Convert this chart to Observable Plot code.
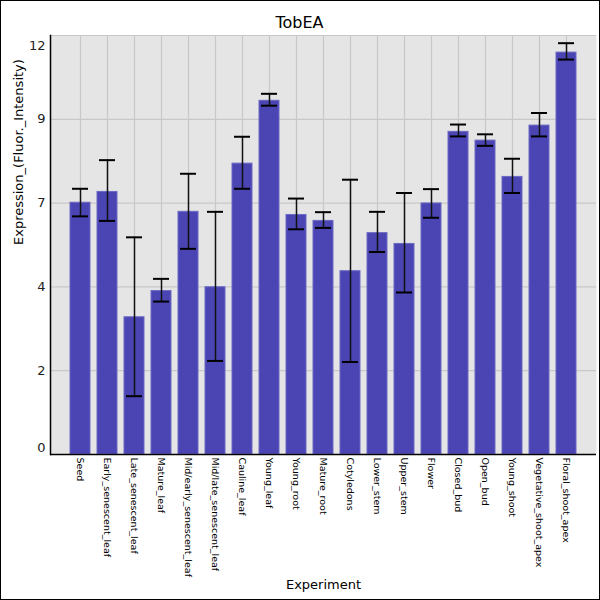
<!DOCTYPE html>
<html>
<head>
<meta charset="utf-8">
<script src="https://cdn.jsdelivr.net/npm/d3@7"></script>
<script src="https://cdn.jsdelivr.net/npm/@observablehq/plot@0.6"></script>
<style>
  body { margin: 0; background: #fff; }
  #wrap { position: relative; width: 600px; height: 600px; }
  #border { position: absolute; left: 0; top: 0; width: 600px; height: 600px; box-sizing: border-box; border: 1px solid #000; pointer-events: none; }
</style>
</head>
<body>
<div id="wrap"><div id="border"></div></div>
<script>
const categories = ["Seed","Early_senescent_leaf","Late_senescent_leaf","Mature_leaf","Mid/early_senescent_leaf","Mid/late_senescent_leaf","Cauline_leaf","Young_leaf","Young_root","Mature_root","Cotyledons","Lower_stem","Upper_stem","Flower","Closed_bud","Open_bud","Young_shoot","Vegetative_shoot_apex","Floral_shoot_apex"];
const values = [7.21, 7.52, 3.93, 4.68, 6.95, 4.79, 8.33, 10.13, 6.86, 6.69, 5.25, 6.34, 6.03, 7.19, 9.24, 8.99, 7.95, 9.42, 11.51];
const errLow = [6.82, 6.69, 1.67, 4.38, 5.89, 2.68, 7.61, 9.99, 6.45, 6.49, 2.65, 5.80, 4.64, 6.78, 9.11, 8.84, 7.49, 9.11, 11.31];
const errHigh = [7.61, 8.43, 6.22, 5.03, 8.04, 6.95, 9.10, 10.33, 7.33, 6.94, 7.87, 6.95, 7.49, 7.60, 9.45, 9.17, 8.47, 9.78, 11.78];
const yTicks = [0, 2.4, 4.8, 7.2, 9.6, 12];
const yTickLabels = ["0", "2", "4", "7", "9", "12"];

const data = categories.map((c, i) => ({cat: c, v: values[i], lo: errLow[i], hi: errHigh[i]}));
const ticks = yTicks.map((t, i) => ({t, label: yTickLabels[i]}));
const font = "DejaVu Sans, sans-serif";

const chart = Plot.plot({
  width: 600,
  height: 600,
  marginLeft: 50,
  marginRight: 4,
  marginTop: 35,
  marginBottom: 146,
  style: {fontFamily: font, background: "transparent"},
  x: {type: "band", domain: categories, paddingInner: 0.267, paddingOuter: 0.633, axis: null},
  y: {domain: [0, 12], axis: null},
  marks: [
    Plot.frame({fill: "#e5e5e5", stroke: null}),
    Plot.gridY(yTicks, {stroke: "#c8c8c8", strokeOpacity: 1, strokeWidth: 1.2}),
    Plot.gridX(categories, {stroke: "#c8c8c8", strokeOpacity: 1, strokeWidth: 1.2}),
    Plot.barY(data, {x: "cat", y: "v", fill: "#4a45b3", stroke: "#6c68c4", strokeWidth: 1}),
    Plot.ruleX(data, {x: "cat", y1: "lo", y2: "hi", stroke: "#111", strokeWidth: 1.5}),
    Plot.tickY(data, {x: "cat", y: "hi", stroke: "#000", strokeWidth: 2, insetLeft: 2, insetRight: 2}),
    Plot.tickY(data, {x: "cat", y: "lo", stroke: "#000", strokeWidth: 2, insetLeft: 2, insetRight: 2}),
    Plot.ruleY([0], {stroke: "#000", strokeWidth: 1.5}),
    Plot.frame({anchor: "left", stroke: "#000", strokeWidth: 1.5}),
    Plot.axisX({tickRotate: 90, tickSize: 0, tickPadding: 3, fontSize: 9.5, label: null, fill: "#000"}),
    Plot.text(ticks.slice(1, 5), {y: "t", text: "label", frameAnchor: "left", textAnchor: "end", dx: -5, fontSize: 13, fill: "#222"}),
    Plot.text(ticks.slice(0, 1), {y: "t", text: "label", frameAnchor: "left", textAnchor: "end", dx: -5, dy: -7, fontSize: 13, fill: "#222"}),
    Plot.text(ticks.slice(5), {y: "t", text: "label", frameAnchor: "left", textAnchor: "end", dx: -5, dy: 10, fontSize: 13, fill: "#222"}),
    Plot.text(["Expression_(Fluor._Intensity)"], {frameAnchor: "left", rotate: -90, dx: -32, fontSize: 13, fill: "#000"}),
    Plot.text(["Experiment"], {frameAnchor: "bottom", dy: 134, fontSize: 13, fill: "#000"}),
    Plot.text(["TobEA"], {frameAnchor: "top", dx: -24, dy: -19, fontSize: 16, fill: "#000"})
  ]
});
document.getElementById("wrap").prepend(chart);
</script>
</body>
</html>
